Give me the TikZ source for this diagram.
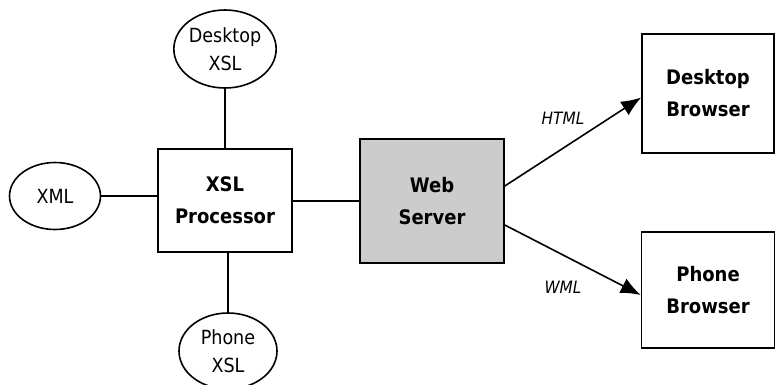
\documentclass[tikz,border=0pt]{standalone}
\usepackage{fontspec}
\setmainfont{DejaVu Sans Condensed}
\usetikzlibrary{shapes.geometric,arrows.meta}
\begin{document}
\begin{tikzpicture}[x=1pt,y=-1pt,
  line width=1.6pt,
  txt/.style={font=\fontsize{19.5}{28}\selectfont, align=center, inner sep=0pt},
  oval/.style={ellipse, draw, txt},
  box/.style={rectangle, draw, align=center, inner sep=0pt,
    font=\bfseries\fontsize{20}{32}\selectfont},
  lbl/.style={font=\itshape\fontsize{17}{18}\selectfont, inner sep=0pt},
  flow/.style={-{Latex[length=20pt,width=16pt]}}]
\useasboundingbox (0,0) rectangle (775,384);

% data sources around the processor
\node[oval, minimum width=102pt, minimum height=78pt] (dxsl) at (225,49) {Desktop\\XSL};
\node[oval, minimum width=91pt, minimum height=67pt] (xml) at (55,196) {XML};
\node[oval, minimum width=98pt, minimum height=76pt] (pxsl) at (228,351) {Phone\\XSL};

% processing boxes
\node[box, minimum width=134pt, minimum height=103pt] (proc) at (225,200.5) {XSL\\Processor};
\node[box, fill=gray!40, minimum width=144pt, minimum height=124pt] (web) at (432,201) {Web\\Server};

% client browsers
\node[box, minimum width=132pt, minimum height=119pt] (dbrow) at (708,93.5) {Desktop\\Browser};
\node[box, minimum width=133pt, minimum height=116pt] (pbrow) at (708,290) {Phone\\Browser};

% plain links
\draw (xml.east) -- (proc.west |- xml.east);
\draw (dxsl.south) -- (dxsl.south |- proc.north);
\draw (pxsl.north) -- (pxsl.north |- proc.south);
\draw (proc.east |- web.west) -- (web.west);

% delivery arrows
\draw[flow] ([yshift=15pt]web.east) -- ([yshift=-4pt]dbrow.west);
\draw[flow] ([yshift=-24pt]web.east) -- ([yshift=-5pt]pbrow.west);

\node[lbl] (html) at (563,118) {HTML};
\node[lbl] (wml) at (563,287) {WML};
\end{tikzpicture}
\end{document}
